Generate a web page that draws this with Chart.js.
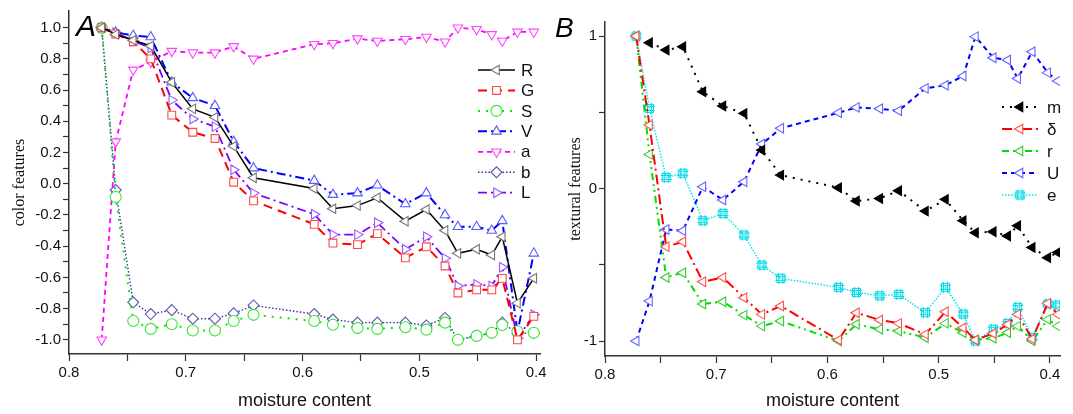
<!DOCTYPE html>
<html>
<head>
<meta charset="utf-8">
<script src="https://cdn.jsdelivr.net/npm/chart.js@4.4.0/dist/chart.umd.min.js"></script>
<style>
  body { margin: 0; background: #fff; }
  #wrap { position: relative; width: 1073px; height: 414px; overflow: hidden; }
  .box { position: absolute; top: 0; }
  .tag { position: absolute; font-family: 'Liberation Sans', Arial, sans-serif; font-style: italic; line-height: 1; color: #000; }
</style>
</head>
<body>
<div id="wrap">
  <div class="box" style="left:0px;width:560px;height:414px"><canvas id="chartA" width="560" height="414"></canvas></div>
  <div class="box" style="left:540px;width:533px;height:414px"><canvas id="chartB" width="533" height="414"></canvas></div>
  <div class="tag" style="left:76px;top:11px;font-size:30px">A</div>
  <div class="tag" style="left:555px;top:14px;font-size:28px">B</div>
</div>
<script>
// moisture content of each sample (shared by both panels)
const xs = [0.772, 0.760, 0.745, 0.730, 0.712, 0.694, 0.675, 0.659, 0.642, 0.590, 0.574,
            0.553, 0.536, 0.512, 0.494, 0.478, 0.467, 0.451, 0.438, 0.429, 0.416, 0.402, 0.393];

// panel A - color features
const colR = [1.0, 0.957, 0.92, 0.883, 0.65, 0.48, 0.426, 0.24, 0.038, -0.03, -0.16, -0.14, -0.09, -0.24, -0.165, -0.30, -0.446, -0.42, -0.457, -0.34, -0.765, -0.606];
const colG = [1.0, 0.96, 0.91, 0.80, 0.44, 0.33, 0.29, 0.01, -0.11, -0.26, -0.38, -0.39, -0.32, -0.475, -0.404, -0.527, -0.70, -0.68, -0.68, -0.606, -1.0, -0.85];
const colS = [1.0, -0.085, -0.88, -0.93, -0.90, -0.94, -0.94, -0.88, -0.84, -0.88, -0.904, -0.925, -0.93, -0.92, -0.935, -0.89, -1.0, -0.975, -0.955, -0.905, -0.945, -0.955];
const colV = [1.0, 0.97, 0.95, 0.94, 0.65, 0.55, 0.50, 0.27, 0.10, 0.02, -0.07, -0.06, -0.01, -0.13, -0.06, -0.20, -0.276, -0.276, -0.30, -0.238, -0.95, -0.446];
const colA = [-1.0, 0.27, 0.73, 0.78, 0.85, 0.84, 0.84, 0.88, 0.80, 0.894, 0.90, 0.93, 0.915, 0.926, 0.94, 0.91, 1.0, 0.99, 0.957, 0.915, 0.973, 0.973];
const colB = [1.0, -0.04, -0.76, -0.835, -0.81, -0.865, -0.865, -0.83, -0.78, -0.835, -0.87, -0.89, -0.89, -0.89, -0.908, -0.86, -1.0, -0.975, -0.957, -0.89, -0.96, -0.957];
const colL = [1.0, 0.97, 0.915, 0.87, 0.536, 0.415, 0.366, 0.09, -0.06, -0.195, -0.326, -0.326, -0.25, -0.42, -0.34, -0.478, -0.655, -0.645, -0.655, -0.535, -0.99, -0.84];

// panel B - textural features
const texM = [null, 0.956, 0.908, 0.93, 0.635, 0.541, 0.493, 0.252, 0.088, 0.005, -0.082, -0.065, -0.014, -0.148, -0.071, -0.211, -0.29, -0.283, -0.311, -0.244, -0.386, -0.453, -0.419];
const texD = [1.0, 0.416, -0.381, -0.349, -0.611, -0.583, -0.716, -0.825, -0.77, -0.993, -0.814, -0.862, -0.884, -0.956, -0.808, -0.913, -0.993, -0.95, -0.891, -0.825, -0.987, -0.753, -0.825];
const texR = [1.0, 0.224, -0.583, -0.552, -0.757, -0.742, -0.83, -0.902, -0.869, -1.0, -0.89, -0.923, -0.934, -0.978, -0.884, -0.945, -0.993, -0.982, -0.945, -0.902, -0.998, -0.858, -0.902];
const texU = [-1.0, -0.738, -0.268, -0.277, 0.012, -0.075, 0.045, 0.292, 0.395, 0.497, 0.532, 0.523, 0.51, 0.657, 0.677, 0.738, 0.996, 0.858, 0.843, 0.722, 0.897, 0.76, 0.705];
const texE = [1.0, 0.526, 0.073, 0.1, -0.211, -0.163, -0.305, -0.502, -0.589, -0.648, -0.681, -0.703, -0.694, -0.814, -0.648, -0.823, -1.0, -0.923, -0.884, -0.779, -0.976, -0.757, -0.764];

// ticks
const xTicks = [0.4, 0.45, 0.5, 0.55, 0.6, 0.65, 0.7, 0.75, 0.8];
const xTickLabels = ['0.4', '', '0.5', '', '0.6', '', '0.7', '', '0.8'];
const yTicksA = [-1.0, -0.9, -0.8, -0.7, -0.6, -0.5, -0.4, -0.3, -0.2, -0.1, 0.0, 0.1, 0.2, 0.3, 0.4, 0.5, 0.6, 0.7, 0.8, 0.9, 1.0];
const yLabelsA = ['-1.0', '', '-0.8', '', '-0.6', '', '-0.4', '', '-0.2', '', '0.0', '', '0.2', '', '0.4', '', '0.6', '', '0.8', '', '1.0'];
const yTicksB = [-1, -0.5, 0, 0.5, 1];
const yLabelsB = ['-1', '', '0', '', '1'];

const sans = "'Liberation Sans', Arial, sans-serif";
const serif = "'Liberation Serif', 'Times New Roman', serif";

function pts(vals) {
    return vals.map((v, i) => ({ x: xs[i], y: v }));
}

// hash marker used by the e series
function hashMarker(color) {
    const c = document.createElement('canvas');
    c.width = 13; c.height = 13;
    const g = c.getContext('2d');
    g.strokeStyle = color;
    g.lineWidth = 1;
    g.beginPath();
    g.moveTo(4.5, 1); g.lineTo(4.5, 12);
    g.moveTo(8.5, 1); g.lineTo(8.5, 12);
    g.moveTo(1, 4.5); g.lineTo(12, 4.5);
    g.moveTo(1, 8.5); g.lineTo(12, 8.5);
    g.stroke();
    g.strokeRect(2.5, 2.5, 8, 8);
    return c;
}

function series(label, vals, line, dash, width, marker, style, rot, fill) {
    return {
        label: label,
        data: pts(vals),
        borderColor: line,
        borderDash: dash,
        borderWidth: width,
        pointStyle: style,
        pointRotation: rot,
        pointRadius: 5.5,
        pointBorderWidth: 1.1,
        pointBorderColor: marker,
        pointBackgroundColor: fill || '#fff',
        tension: 0,
        spanGaps: false
    };
}

function lineLegend(cfg) {
    return {
        id: 'lineLegend',
        afterDraw(chart) {
            const ctx = chart.ctx;
            chart.data.datasets.forEach((ds, i) => {
                const y = cfg.top + i * cfg.gap;
                ctx.save();
                ctx.strokeStyle = ds.borderColor;
                ctx.lineWidth = ds.borderWidth;
                ctx.setLineDash(ds.borderDash || []);
                ctx.beginPath();
                ctx.moveTo(cfg.x0, y);
                ctx.lineTo(cfg.x1, y);
                ctx.stroke();
                ctx.setLineDash([]);
                ctx.fillStyle = ds.pointBackgroundColor;
                ctx.strokeStyle = ds.pointBorderColor;
                ctx.lineWidth = ds.pointBorderWidth;
                Chart.helpers.drawPoint(ctx, {
                    pointStyle: ds.pointStyle,
                    rotation: ds.pointRotation || 0,
                    radius: ds.pointRadius,
                    borderWidth: ds.pointBorderWidth
                }, (cfg.x0 + cfg.x1) / 2, y);
                ctx.fillStyle = '#111';
                ctx.font = cfg.font;
                ctx.textBaseline = 'middle';
                ctx.fillText(ds.label, cfg.labelX, y + 1);
                ctx.restore();
            });
        }
    };
}

function axes(o) {
    return {
        x: {
            type: 'linear',
            reverse: true,
            min: o.xMin,
            max: 0.8,
            afterBuildTicks: s => { s.ticks = xTicks.map(v => ({ value: v })); },
            afterFit: s => { s.height = o.xHeight; },
            grid: { drawOnChartArea: false, drawTicks: true, tickLength: 7, color: '#333', tickWidth: 1.2 },
            border: { display: true, color: '#333', width: 1.5 },
            ticks: {
                autoSkip: false, maxRotation: 0, padding: 3, color: '#111',
                font: { family: sans, size: 15 },
                callback: (v, i) => xTickLabels[i]
            },
            title: {
                display: true, text: 'moisture content', color: '#111',
                font: { family: sans, size: 18 }, padding: { top: 0, bottom: 2 }
            }
        },
        y: {
            min: o.yMin,
            max: o.yMax,
            afterBuildTicks: s => { s.ticks = o.yTicks.map(v => ({ value: v })); },
            afterFit: s => { s.width = o.yWidth; },
            grid: { drawOnChartArea: false, drawTicks: true, tickLength: 6, color: '#333', tickWidth: 1.2 },
            border: { display: true, color: '#333', width: 1.5 },
            ticks: {
                autoSkip: false, padding: 2, color: '#111',
                font: { family: sans, size: 15 },
                callback: (v, i) => o.yLabels[i]
            },
            title: {
                display: true, text: o.yTitle, color: '#111',
                font: { family: serif, size: 16 }, padding: { top: o.yTitlePad, bottom: 0 }
            }
        }
    };
}

const hash = hashMarker('#00d8e8');

new Chart(document.getElementById('chartA'), {
    type: 'line',
    data: {
        datasets: [
            series('R', colR, '#000000', [], 1.5, '#777777', 'triangle', -90),
            series('G', colG, '#ff0000', [9, 6], 2, '#ff4a4a', 'rect', 0),
            series('S', colS, '#00ee00', [2, 6], 2, '#33e833', 'circle', 0),
            series('V', colV, '#0000ff', [9, 4, 2, 4], 2, '#5a5aff', 'triangle', 0),
            series('a', colA, '#ff00ff', [5, 4], 1.8, '#ff44ff', 'triangle', 180),
            series('b', colB, '#333399', [1.5, 2], 1.4, '#5a5aaa', 'rectRot', 0),
            series('L', colL, '#7f00ff', [9, 4, 2, 4], 1.8, '#9a55ff', 'triangle', 90)
        ]
    },
    options: {
        responsive: false,
        animation: false,
        devicePixelRatio: 1,
        layout: { autoPadding: false, padding: { left: 0, right: 20, top: 10, bottom: 0 } },
        plugins: { legend: { display: false }, tooltip: { enabled: false } },
        scales: axes({
            xMin: 0.3967, xHeight: 60, yMin: -1.091, yMax: 1.107, yTicks: yTicksA, yLabels: yLabelsA,
            yWidth: 69, yTitle: 'color features', yTitlePad: 10
        })
    },
    plugins: [lineLegend({ x0: 478, x1: 515, labelX: 521, top: 70, gap: 20.45, font: '17px ' + sans })]
});

new Chart(document.getElementById('chartB'), {
    type: 'line',
    data: {
        datasets: [
            series('m', texM, '#000000', [2, 6], 2, '#000000', 'triangle', -90, '#000000'),
            series('\u03b4', texD, '#ff0000', [10, 4, 2, 4], 2, '#ff5050', 'triangle', -90),
            series('r', texR, '#00dd00', [7, 4, 2, 4, 2, 4], 2, '#33cc33', 'triangle', -90),
            series('U', texU, '#0000ff', [5, 4], 2, '#6666ff', 'triangle', -90),
            series('e', texE, '#00e8f0', [1.5, 1.5], 1.5, '#00d8e8', hash, 0)
        ]
    },
    options: {
        responsive: false,
        animation: false,
        devicePixelRatio: 1,
        layout: { autoPadding: false, padding: { left: 0, right: 13, top: 22, bottom: 0 } },
        plugins: { legend: { display: false }, tooltip: { enabled: false } },
        scales: axes({
            xMin: 0.391, xHeight: 58, yMin: -1.098, yMax: 1.092, yTicks: yTicksB, yLabels: yLabelsB,
            yWidth: 65, yTitle: 'textural features', yTitlePad: 26
        })
    },
    plugins: [lineLegend({ x0: 462, x1: 498, labelX: 507, top: 107, gap: 22, font: '17px ' + sans })]
});
</script>
</body>
</html>
